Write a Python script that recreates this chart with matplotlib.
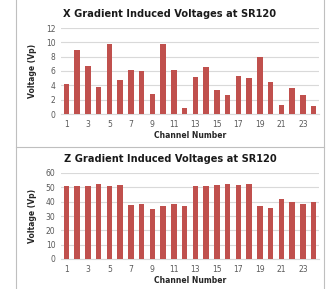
import matplotlib
matplotlib.use("Agg")
import matplotlib.pyplot as plt
from matplotlib.lines import Line2D

channels = list(range(1, 25))
x_voltages = [4.2, 9.0, 6.7, 3.7, 9.7, 4.7, 6.1, 6.0, 2.8, 9.8, 6.2, 0.8,
              5.1, 6.5, 3.4, 2.6, 5.3, 5.0, 8.0, 4.4, 1.3, 3.6, 2.7, 1.1]
z_voltages = [51, 51, 51, 52, 51, 51.5, 38, 38.2, 35, 37, 38.5, 37,
              51.2, 50.6, 51.5, 52.6, 51.5, 52.6, 37, 35.5, 42, 40, 38.5, 40]
x_title = "X Gradient Induced Voltages at SR120"
z_title = "Z Gradient Induced Voltages at SR120"
xtick_labels = [1, 3, 5, 7, 9, 11, 13, 15, 17, 19, 21, 23]

bar_color = "#C0504D"
grid_color = "#D9D9D9"
text_color = "#595959"

fig = plt.figure(figsize=(3.31, 2.89), dpi=100)
fig.patch.set_facecolor("white")

W, H = 331, 289

def px_rect(l, t, r, b):
    return [l / W, 1 - b / H, (r - l) / W, (b - t) / H]

panels = [
    (x_voltages, x_title, 12, 2, px_rect(61, 28, 319, 114), 14),
    (z_voltages, z_title, 60, 10, px_rect(61, 173, 319, 259), 159),
]

for vals, title, ymax, step, rect, title_y in panels:
    ax = fig.add_axes(rect)
    ax.bar(channels, vals, width=0.5, color=bar_color, zorder=3)
    ax.set_xlim(0.5, 24.5)
    ax.set_ylim(0, ymax)
    ax.set_yticks(range(0, ymax + 1, step))
    ax.set_xticks(xtick_labels)
    ax.grid(axis="y", color=grid_color, linewidth=0.8, zorder=0)
    for s in ["top", "right", "left"]:
        ax.spines[s].set_visible(False)
    ax.spines["bottom"].set_color(grid_color)
    ax.spines["bottom"].set_linewidth(0.8)
    ax.tick_params(axis="both", length=0, labelsize=5.5, colors=text_color, pad=4)
    ax.set_xlabel("Channel Number", fontsize=5.5, fontweight="bold", color="#262626", labelpad=2)
    ax.set_ylabel("Voltage (Vp)", fontsize=5.5, fontweight="bold", color="#262626", labelpad=6)
    fig.text(170 / W, 1 - title_y / H, title, ha="center", va="center",
             fontsize=7.1, fontweight="bold", color="#1a1a1a")

# panel borders
border = "#BFBFBF"
fig.add_artist(Line2D([15.5 / W, 15.5 / W], [0, 1], color=border, lw=0.8))
fig.add_artist(Line2D([324 / W, 324 / W], [0, 1], color=border, lw=0.8))
fig.add_artist(Line2D([15.5 / W, 324 / W], [1 - 147 / H, 1 - 147 / H], color=border, lw=0.8))

fig.savefig("out.png", dpi=100)
